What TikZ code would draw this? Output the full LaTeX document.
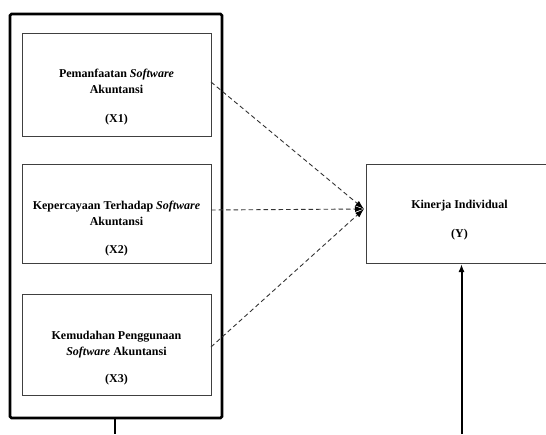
\documentclass[tikz,border=0pt]{standalone}
\usepackage{fontspec}
\setmainfont{Liberation Serif}
\usetikzlibrary{arrows.meta}
\begin{document}
\begin{tikzpicture}[x=1pt,y=-1pt,
  varbox/.style={draw=black!75,line width=0.9pt,minimum width=189pt,inner sep=0pt},
  vartext/.style={align=center,inner sep=0pt,font=\fontsize{12}{16}\selectfont\bfseries},
  dashline/.style={draw=black!80,line width=0.9pt,dash pattern=on 4.5pt off 3pt,
    -{Latex[length=9pt,width=6pt,black]}},
  solidline/.style={line width=2pt,draw=black}]
\useasboundingbox (0,0) rectangle (546,434);
\clip (0,0) rectangle (546,434);
% outer frame
\node[draw=black,line width=2.8pt,rounded corners=1.5pt,minimum width=212pt,minimum height=404pt,inner sep=0pt] (frame) at (116,216) {};
% variable boxes
\node[varbox,minimum height=103pt] (x1) at (116.5,84.5) {};
\node[varbox,minimum height=99pt] (x2) at (116.5,213.5) {};
\node[varbox,minimum height=101pt] (x3) at (116.5,344.5) {};
\node[vartext] (t1) at (116.5,97.5) {Pemanfaatan \textit{Software}\\Akuntansi\\[13pt](X1)};
\node[vartext] (t2) at (116.5,229) {Kepercayaan Terhadap \textit{Software}\\Akuntansi\\[12pt](X2)};
\node[vartext] (t3) at (116.5,358.5) {Kemudahan Penggunaan\\\textit{Software} Akuntansi\\[11pt](X3)};
% dependent box (cut off at right edge)
\node[draw=black!75,line width=0.9pt,minimum width=220pt,minimum height=99pt,inner sep=0pt,anchor=north west] (y) at (365.5,164) {};
\node[vartext] (ylab) at (459.5,220) {Kinerja Individual\\[13pt](Y)};
\coordinate (tip) at (364,209);
\coordinate (bl) at (115,434);
\coordinate (br) at (461.5,434);
\coordinate (yin) at (461.5,264);
% dashed connectors
\draw[dashline] (211,82) -- (tip);
\draw[dashline] (211,210) -- (tip);
\draw[dashline] (211,347) -- (tip);
% solid lines
\draw[solidline] (frame.south -| bl) -- (bl);
\draw[solidline,-{Latex[length=8pt,width=6pt]}] (br) -- (yin);
\end{tikzpicture}
\end{document}
